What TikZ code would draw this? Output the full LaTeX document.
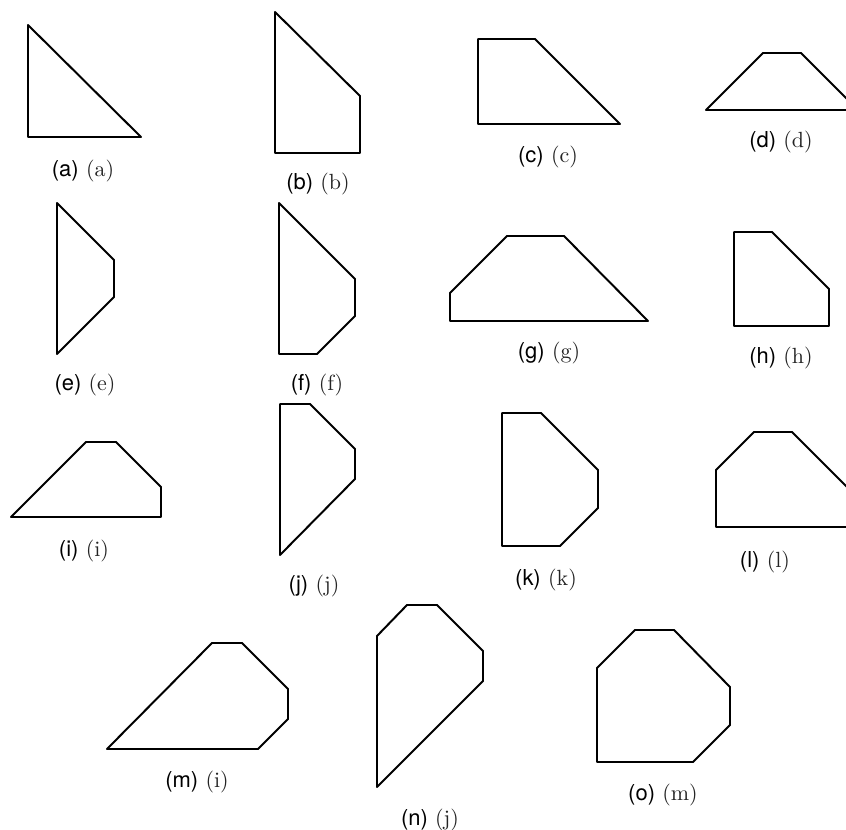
\documentclass[tikz,border=0pt]{standalone}
\usepackage{fontspec}
\setsansfont{TeX Gyre Heros}
\usepackage{tikz}
\definecolor{lblgray}{RGB}{35,35,35}

\begin{document}
\begin{tikzpicture}[x=0.16mm, y=-0.16mm,
				facet/.style={draw, line width=0.9pt, line join=round},   %Umriss der Flaechen
				sublbl/.style={inner sep=0pt, font=\normalsize}]
				%Bildbereich
				\useasboundingbox (0,0) rectangle (846,830);
				\clip (0,0) rectangle (846,830);
				% Reihe 1
				\draw[facet] (28,25) -- (28,137) -- (141,137) -- cycle;
				\draw[facet] (275,12) -- (275,153) -- (360,153) -- (360,96) -- cycle;
				\draw[facet] (478,39) -- (535,39) -- (620,124) -- (478,124) -- cycle;
				\draw[facet] (706,110) -- (763,53) -- (801,53) -- (858,110) -- cycle;
				% Reihe 2
				\draw[facet] (57,203) -- (114,260) -- (114,297) -- (57,354) -- cycle;
				\draw[facet] (279,203) -- (355,279) -- (355,316) -- (317,354) -- (279,354) -- cycle;
				\draw[facet] (450,321) -- (450,293) -- (507,236) -- (564,236) -- (648,321) -- cycle;
				\draw[facet] (734,232) -- (772,232) -- (829,289) -- (829,326) -- (734,326) -- cycle;
				% Reihe 3
				\draw[facet] (11,517) -- (86,442) -- (116,442) -- (161,487) -- (161,517) -- cycle;
				\draw[facet] (280,404) -- (310,404) -- (355,449) -- (355,479) -- (280,555) -- cycle;
				\draw[facet] (502,413) -- (541,413) -- (598,470) -- (598,508) -- (560,546) -- (502,546) -- cycle;
				\draw[facet] (716,527) -- (716,470) -- (754,432) -- (792,432) -- (849,489) -- (849,527) -- cycle;
				% Reihe 4
				\draw[facet] (107,749) -- (212,643) -- (242,643) -- (288,689) -- (288,719) -- (258,749) -- cycle;
				\draw[facet] (377,787) -- (377,636) -- (407,605) -- (437,605) -- (483,651) -- (483,681) -- cycle;
				\draw[facet] (597,762) -- (597,668) -- (635,630) -- (674,630) -- (730,687) -- (730,725) -- (693,762) -- cycle;
				%Beschriftung
				\foreach \n/\r/\x/\y in {a/a/83/171, b/b/318/184, c/c/548/157, d/d/781/142,
						e/e/85/385, f/f/317/385, g/g/549/353, h/h/781/358,
						i/i/84/551, j/j/314/586, k/k/546/580, l/l/765/562,
						m/i/197/782, n/j/430/820, o/m/663/795}
					\node[sublbl] (lbl\n) at (\x,\y) {\textsf{(\n)} \textcolor{lblgray}{(\r)}};
			\end{tikzpicture}
\end{document}
